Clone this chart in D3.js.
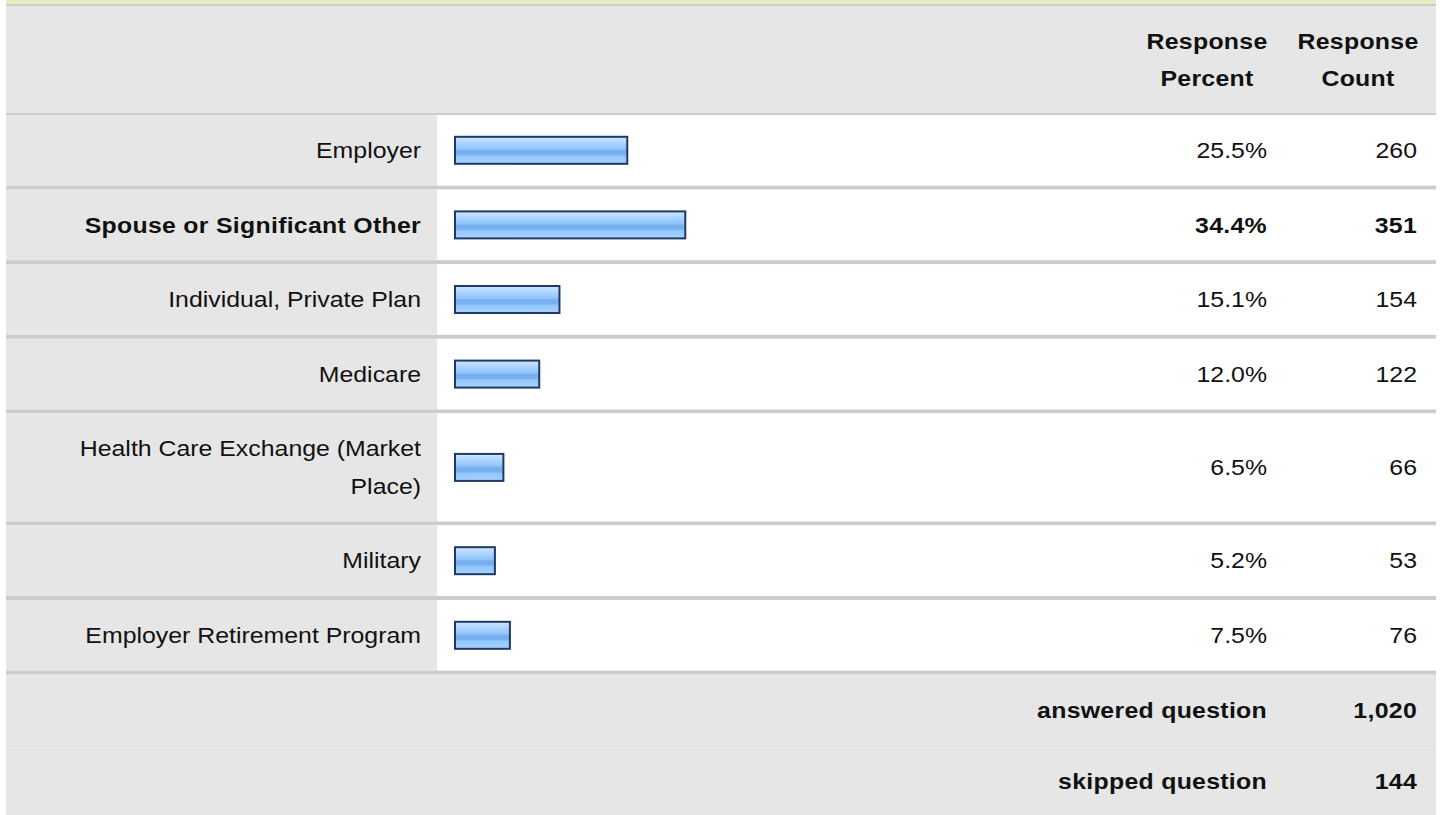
<!DOCTYPE html>
<html>
<head>
<meta charset="utf-8">
<script src="https://cdn.jsdelivr.net/npm/d3@7"></script>
<style>
  html, body { margin: 0; padding: 0; background: #ffffff; }
  svg { display: block; }
  text { font-family: "Liberation Sans", Arial, sans-serif; fill: #111111; }
</style>
</head>
<body>
<svg id="chart" width="1442" height="815"></svg>
<script>
// ---- data ----
const categories = [
  "Employer",
  "Spouse or Significant Other",
  "Individual, Private Plan",
  "Medicare",
  "Health Care Exchange (Market Place)",
  "Military",
  "Employer Retirement Program"
];
const responsePercent = [25.5, 34.4, 15.1, 12.0, 6.5, 5.2, 7.5];
const responseCount = [260, 351, 154, 122, 66, 53, 76];
const highlighted = "Spouse or Significant Other";
const headerLabels = [["Response", "Percent"], ["Response", "Count"]];
const summaryLabels = ["answered question", "skipped question"];
const summaryValues = [1020, 144];

// ---- layout ----
const W = 1442, H = 815;
const tableLeft = 6, tableRight = 1436;
const labelColRight = 437;
const fs = 22, sx = 1.13, lh = 37.4, rowPad = 33.2, sepW = 4;
const pctRight = 1267, cntRight = 1417;
const hdrPctCenter = 1207, hdrCntCenter = 1358;
const labelRight = 421, labelMaxW = 402;

const svg = d3.select("#chart");

// text helper: horizontally stretched glyphs like the reference
function addText(parent, str, x, y, anchor, bold) {
  return parent.append("text")
    .attr("transform", `translate(${x},${y}) scale(${sx},1)`)
    .attr("dy", "0.35em").attr("text-anchor", anchor)
    .style("font-size", fs + "px")
    .style("font-weight", bold ? "bold" : "normal")
    .style("letter-spacing", bold ? "0.25px" : "0px")
    .text(str);
}

// gradient for bars
const defs = svg.append("defs");
const grad = defs.append("linearGradient").attr("id", "barGrad")
  .attr("x1", 0).attr("y1", 0).attr("x2", 0).attr("y2", 1);
[[0, "#d2e8ff"], [0.18, "#b5d8ff"], [0.32, "#9ecdff"], [0.46, "#8fc3fb"],
 [0.52, "#76adec"], [0.66, "#7ab1ef"], [0.72, "#93c7fd"], [1, "#a8d2ff"]]
  .forEach(([o, c]) => grad.append("stop").attr("offset", o).attr("stop-color", c));

// top band
svg.append("rect").attr("x", tableLeft).attr("y", 0).attr("width", tableRight - tableLeft).attr("height", 4).attr("fill", "#e6ebc2");
svg.append("rect").attr("x", tableLeft).attr("y", 4).attr("width", tableRight - tableLeft).attr("height", 2).attr("fill", "#cccccc");

// header
const headerTop = 6, headerH = 107;
svg.append("rect").attr("x", tableLeft).attr("y", headerTop).attr("width", tableRight - tableLeft).attr("height", headerH).attr("fill", "#e6e6e6");
headerLabels.forEach((lines, i) => {
  const cx = i === 0 ? hdrPctCenter : hdrCntCenter;
  const cy = headerTop + headerH / 2;
  lines.forEach((ln, j) => addText(svg, ln, cx, cy + (j - (lines.length - 1) / 2) * lh, "middle", true));
});
svg.append("rect").attr("x", tableLeft).attr("y", headerTop + headerH).attr("width", tableRight - tableLeft).attr("height", 2).attr("fill", "#cccccc");

// wrap labels into lines by measuring
const measure = svg.append("text").style("font-size", fs + "px").attr("visibility", "hidden");
function wrap(label, bold) {
  measure.style("font-weight", bold ? "bold" : "normal");
  const words = label.split(" ");
  const lines = [];
  let cur = "";
  words.forEach(w => {
    const test = cur ? cur + " " + w : w;
    measure.text(test);
    if (measure.node().getComputedTextLength() * sx > labelMaxW && cur) {
      lines.push(cur); cur = w;
    } else cur = test;
  });
  lines.push(cur);
  return lines;
}

const rows = categories.map((c, i) => ({
  label: c, pct: responsePercent[i], cnt: responseCount[i],
  bold: c === highlighted, lines: wrap(c, c === highlighted)
}));
measure.remove();

let y0 = headerTop + headerH + 2;
rows.forEach(r => {
  r.top = y0;
  r.h = rowPad + r.lines.length * lh;
  y0 = r.top + r.h + sepW;
});

const x = d3.scaleLinear().domain([0, 100]).range([0, 652]);
const barX0 = 455, barBase = 6, barH = 27;

const fmtPct = d => d3.format(".1f")(d) + "%";

const g = svg.append("g");
const rowG = g.selectAll("g.row").data(rows).join("g").attr("class", "row");

rowG.append("rect").attr("x", tableLeft).attr("y", d => d.top)
  .attr("width", labelColRight - tableLeft).attr("height", d => d.h).attr("fill", "#e6e6e6");
rowG.append("rect").attr("x", labelColRight).attr("y", d => d.top)
  .attr("width", tableRight - labelColRight).attr("height", d => d.h).attr("fill", "#ffffff");
rowG.append("rect").attr("x", tableLeft).attr("y", d => d.top + d.h)
  .attr("width", tableRight - tableLeft).attr("height", sepW).attr("fill", "#cccccc");

rowG.each(function (d) {
  const sel = d3.select(this);
  const cy = d.top + d.h / 2;
  d.lines.forEach((ln, j) => addText(sel, ln, labelRight, cy + (j - (d.lines.length - 1) / 2) * lh, "end", d.bold));
  sel.append("rect").attr("x", barX0).attr("y", cy - barH / 2)
    .attr("width", barBase + x(d.pct)).attr("height", barH)
    .attr("fill", "url(#barGrad)").attr("stroke", "#1e3a64").attr("stroke-width", 2);
  addText(sel, fmtPct(d.pct), pctRight, cy, "end", d.bold);
  addText(sel, d.cnt, cntRight, cy, "end", d.bold);
});

// summary rows
const sumH = [71, 70];
let sy = y0;
summaryLabels.forEach((lab, i) => {
  svg.append("rect").attr("x", tableLeft).attr("y", sy).attr("width", tableRight - tableLeft).attr("height", sumH[i]).attr("fill", "#e6e6e6");
  const cy = sy + sumH[i] / 2;
  addText(svg, lab, pctRight, cy, "end", true);
  addText(svg, d3.format(",")(summaryValues[i]), cntRight, cy, "end", true);
  sy += sumH[i];
  if (i === 0) {
    svg.append("rect").attr("x", tableLeft).attr("y", sy).attr("width", tableRight - tableLeft).attr("height", 1).attr("fill", "#d0d0d0");
    sy += 1;
  }
});
</script>
</body>
</html>
